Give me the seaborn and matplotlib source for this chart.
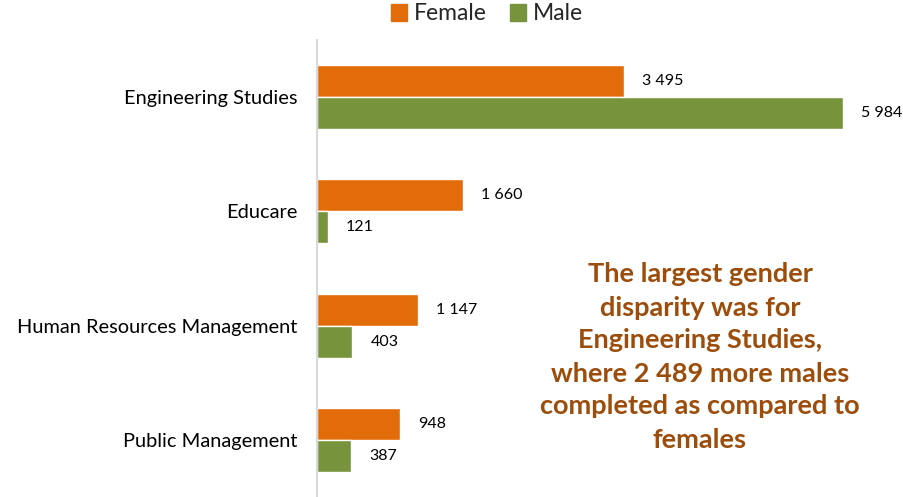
import matplotlib

matplotlib.use("Agg")

import matplotlib.pyplot as plt
import pandas as pd
import seaborn as sns

categories = ["Engineering Studies", "Educare", "Human Resources Management", "Public Management"]
female = [3495, 1660, 1147, 948]
male = [5984, 121, 403, 387]
series = ["Female", "Male"]
note = ("The largest gender\ndisparity was for\nEngineering Studies,\n"
        "where 2 489 more males\ncompleted as compared to\nfemales")

sns.set_theme(style="white")
plt.rcParams["font.family"] = ["Lato", "DejaVu Sans"]

df = pd.DataFrame({
    "category": categories * 2,
    "gender": [series[0]] * len(categories) + [series[1]] * len(categories),
    "value": female + male,
})

fig = plt.figure(figsize=(9.04, 4.97), dpi=100)
ax = fig.add_axes([317 / 904, 0, (888 - 317) / 904, 457 / 497])

sns.barplot(data=df, x="value", y="category", hue="gender", orient="h",
            palette={"Female": "#E36C0A", "Male": "#77933C"}, width=0.56,
            gap=0, ax=ax, legend=False, saturation=1)

for cont in ax.containers:
    ax.bar_label(cont, labels=[f"{v:,.0f}".replace(",", " ") for v in cont.datavalues],
                 padding=13, fontsize=11.5, color="#000000")

ax.set_xlim(0, 6500)
ax.set_ylim(3.5, -0.5)
ax.set_xlabel("")
ax.set_ylabel("")
ax.set_xticks([])
ax.tick_params(axis="y", length=0, pad=14, labelsize=14.4, labelcolor="#000000")
for side in ["top", "right", "bottom"]:
    ax.spines[side].set_visible(False)
ax.spines["left"].set_color("#D9D9D9")
ax.spines["left"].set_linewidth(1.5)

handles = [plt.Rectangle((0, 0), 1, 1, color=c) for c in ["#E36C0A", "#77933C"]]
fig.legend(handles, series, loc="center", bbox_to_anchor=(487 / 904, 1 - 14 / 497),
           ncol=2, frameon=False, fontsize=16.5, handlelength=0.7, handleheight=0.7,
           handletextpad=0.3, columnspacing=1.0)

fig.text(700 / 904, 1 - 357 / 497, note, ha="center", va="center", fontsize=19.5,
         fontweight="bold", color="#9C4D0B", linespacing=1.45)

fig.savefig("out.png", dpi=100)
